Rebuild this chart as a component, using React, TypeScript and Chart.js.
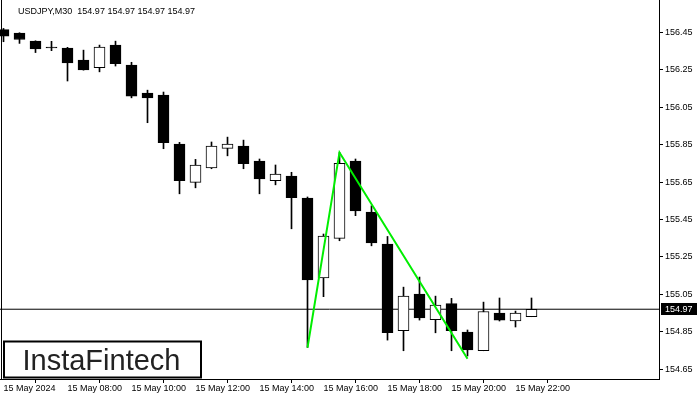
import React, { useEffect, useRef } from "react";
import { Chart, registerables } from "chart.js";

Chart.register(...registerables);

const SYMBOL_TITLE = "USDJPY,M30  154.97 154.97 154.97 154.97";
const CURRENT_PRICE = 154.97;

const OPENS = [
  156.465, 156.446, 156.403, 156.371, 156.366, 156.302, 156.261, 156.382, 156.275, 156.125,
  156.115, 155.853, 155.648, 155.726, 155.83, 155.842, 155.762, 155.657, 155.682, 155.564,
  155.138, 155.349, 155.762, 155.489, 155.318, 154.855, 155.051, 154.914, 155.0, 154.848,
  154.748, 154.949, 154.908, 154.93,
];
const HIGHS = [
  156.471, 156.448, 156.405, 156.402, 156.37, 156.355, 156.382, 156.403, 156.29, 156.141,
  156.131, 155.862, 155.771, 155.864, 155.89, 155.874, 155.773, 155.741, 155.702, 155.57,
  155.372, 155.808, 155.773, 155.523, 155.359, 155.088, 155.142, 155.04, 155.028, 154.859,
  155.008, 155.03, 154.96, 155.03,
];
const LOWS = [
  156.4, 156.391, 156.342, 156.352, 156.19, 156.248, 156.239, 156.27, 156.1, 155.967,
  155.828, 155.587, 155.619, 155.721, 155.79, 155.721, 155.587, 155.635, 155.4, 154.766,
  155.037, 155.336, 155.47, 155.309, 154.805, 154.748, 154.912, 154.844, 154.748, 154.72,
  154.748, 154.907, 154.875, 154.93,
];
const CLOSES = [
  156.43, 156.412, 156.362, 156.367, 156.287, 156.249, 156.371, 156.282, 156.109, 156.1,
  155.86, 155.657, 155.741, 155.842, 155.853, 155.748, 155.667, 155.692, 155.566, 155.126,
  155.361, 155.75, 155.496, 155.325, 154.844, 155.04, 154.923, 154.992, 154.855, 154.752,
  154.958, 154.912, 154.949, 154.97,
];

// Pattern line (bar index, price)
const PATTERN_X = [19, 21, 29];
const PATTERN_Y = [154.765, 155.808, 154.705];

const Y_TICKS = [154.65, 154.85, 155.05, 155.25, 155.45, 155.65, 155.85, 156.05, 156.25, 156.45];
const X_TICK_INDEX = [0, 4, 8, 12, 16, 20, 24, 28, 32];
const X_LABELS = [
  "15 May 2024",
  "15 May 08:00",
  "15 May 10:00",
  "15 May 12:00",
  "15 May 14:00",
  "15 May 16:00",
  "15 May 18:00",
  "15 May 20:00",
  "15 May 22:00",
];

const X_MIN = -0.21875;
const X_MAX = 40.96875;
const Y_MIN = 154.597;
const Y_MAX = 156.623;

const FONT = "'Liberation Sans', Arial, sans-serif";

const decorPlugin = {
  id: "decor",
  afterDraw(chart: any) {
    const ctx = chart.ctx;
    const area = chart.chartArea;
    const yScale = chart.scales.y;
    ctx.save();
    // left frame line
    ctx.strokeStyle = "#000";
    ctx.lineWidth = 1;
    ctx.beginPath();
    ctx.moveTo(1.5, area.top);
    ctx.lineTo(1.5, area.bottom);
    ctx.stroke();
    // header
    ctx.fillStyle = "#000";
    ctx.font = "9px " + FONT;
    ctx.textBaseline = "alphabetic";
    ctx.textAlign = "left";
    ctx.fillText(SYMBOL_TITLE, 18, 14);
    // current price label
    const py = Math.round(yScale.getPixelForValue(CURRENT_PRICE));
    ctx.fillStyle = "#000";
    ctx.fillRect(661, py - 6, 36, 12);
    ctx.fillStyle = "#fff";
    ctx.textBaseline = "middle";
    ctx.fillText(CURRENT_PRICE.toFixed(2), 665, py + 0.5);
    // logo box
    ctx.fillStyle = "#fff";
    ctx.fillRect(4, 341.5, 197, 36);
    ctx.strokeStyle = "#000";
    ctx.lineWidth = 2;
    ctx.strokeRect(4, 341.5, 197, 36);
    ctx.fillStyle = "#222";
    ctx.font = "29px " + FONT;
    ctx.textBaseline = "alphabetic";
    ctx.fillText("InstaFintech", 22.5, 370);
    ctx.restore();
  },
};

const zeroPad = (scale: any) => {
  scale.paddingTop = 0;
  scale.paddingBottom = 0;
  scale.paddingLeft = 0;
  scale.paddingRight = 0;
};

export default function App() {
  const ref = useRef<HTMLCanvasElement | null>(null);

  useEffect(() => {
    document.body.style.margin = "0";
    const canvas = ref.current;
    if (!canvas) return;

    const idx = OPENS.map((_, i) => i);
    const wicks = idx.map((i) => ({ x: i, y: [LOWS[i], HIGHS[i]] }));
    const bodies = idx.map((i) => ({ x: i, y: [OPENS[i], CLOSES[i]] }));
    const bodyColors = idx.map((i) => (CLOSES[i] > OPENS[i] ? "#ffffff" : "#000000"));
    const pattern = PATTERN_X.map((x, i) => ({ x, y: PATTERN_Y[i] }));
    const priceLine = [
      { x: X_MIN, y: CURRENT_PRICE },
      { x: X_MAX, y: CURRENT_PRICE },
    ];

    const chart = new Chart(canvas, {
      type: "bar",
      data: {
        datasets: [
          {
            type: "line",
            data: priceLine,
            borderColor: "#000",
            borderWidth: 1,
            pointRadius: 0,
            order: 4,
          } as any,
          {
            type: "bar",
            data: wicks,
            backgroundColor: "#000",
            borderWidth: 0,
            barThickness: 1,
            grouped: false,
            order: 3,
          } as any,
          {
            type: "bar",
            data: bodies,
            backgroundColor: bodyColors,
            borderColor: "#000",
            borderWidth: 1,
            borderSkipped: false,
            barThickness: 11,
            grouped: false,
            order: 2,
          } as any,
          {
            type: "line",
            data: pattern,
            borderColor: "#00ee00",
            borderWidth: 2,
            pointRadius: 0,
            tension: 0,
            order: 1,
          } as any,
        ],
      },
      options: {
        animation: false,
        responsive: false,
        events: [],
        layout: { padding: 0 },
        plugins: {
          legend: { display: false },
          tooltip: { enabled: false },
        },
        scales: {
          x: {
            type: "linear",
            min: X_MIN,
            max: X_MAX,
            offset: false,
            afterBuildTicks: (scale: any) => {
              scale.ticks = X_TICK_INDEX.map((v) => ({ value: v }));
            },
            afterFit: (scale: any) => {
              scale.height = 21;
              zeroPad(scale);
            },
            grid: {
              drawOnChartArea: false,
              drawTicks: true,
              tickLength: 4,
              color: "#000",
            },
            border: { display: true, color: "#000", width: 1 },
            ticks: {
              autoSkip: false,
              maxRotation: 0,
              align: "start",
              padding: 0,
              color: "#000",
              font: { family: FONT, size: 9 },
              callback: (_v: any, i: number) => X_LABELS[i],
            },
          },
          y: {
            type: "linear",
            position: "right",
            min: Y_MIN,
            max: Y_MAX,
            afterBuildTicks: (scale: any) => {
              scale.ticks = Y_TICKS.map((v) => ({ value: v }));
            },
            afterFit: (scale: any) => {
              scale.width = 41;
              zeroPad(scale);
            },
            grid: {
              drawOnChartArea: false,
              drawTicks: true,
              tickLength: 4,
              color: "#000",
            },
            border: { display: true, color: "#000", width: 1 },
            ticks: {
              padding: 2,
              color: "#000",
              font: { family: FONT, size: 9 },
              callback: (v: any) => Number(v).toFixed(2),
            },
          },
        },
      } as any,
      plugins: [decorPlugin],
    });

    return () => chart.destroy();
  }, []);

  return (
    <div style={{ position: "fixed", left: 0, top: 0, width: 700, height: 400, background: "#fff" }}>
      <canvas ref={ref} width={700} height={400} />
    </div>
  );
}
